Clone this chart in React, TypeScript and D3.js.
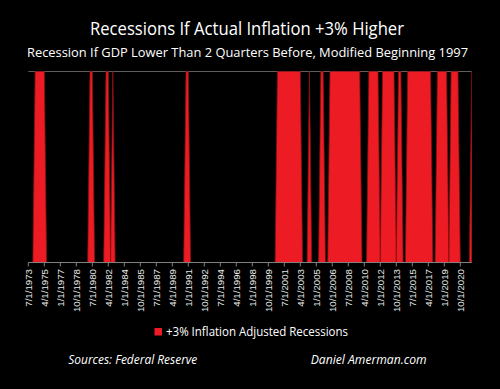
import React from "react";
import * as d3 from "d3";

// Quarterly recession flags (1 = recession), first quarter = 7/1/1973
const startYear = 1973;
const startQuarter = 3;
const flags1973 = [0, 0];
const flags1974to1979 = [
  0, 1, 1, 1, // 1974
  1, 1, 0, 0, // 1975
  0, 0, 0, 0, // 1976
  0, 0, 0, 0, // 1977
  0, 0, 0, 0, // 1978
  0, 0, 0, 0, // 1979
];
const flags1980to1989 = [
  0, 1, 1, 0, // 1980
  0, 0, 0, 0, // 1981
  1, 1, 0, 1, // 1982
  0, 0, 0, 0, // 1983
  0, 0, 0, 0, // 1984
  0, 0, 0, 0, // 1985
  0, 0, 0, 0, // 1986
  0, 0, 0, 0, // 1987
  0, 0, 0, 0, // 1988
  0, 0, 0, 0, // 1989
];
const flags1990to1999 = [
  0, 0, 0, 1, // 1990
  1, 0, 0, 0, // 1991
  0, 0, 0, 0, // 1992
  0, 0, 0, 0, // 1993
  0, 0, 0, 0, // 1994
  0, 0, 0, 0, // 1995
  0, 0, 0, 0, // 1996
  0, 0, 0, 0, // 1997
  0, 0, 0, 0, // 1998
  0, 0, 0, 0, // 1999
];
const flags2000to2009 = [
  0, 0, 0, 1, // 2000
  1, 1, 1, 1, // 2001
  1, 1, 1, 1, // 2002
  1, 1, 0, 0, // 2003
  0, 1, 0, 0, // 2004
  0, 0, 1, 1, // 2005
  0, 0, 1, 1, // 2006
  1, 1, 1, 1, // 2007
  1, 1, 1, 1, // 2008
  1, 1, 1, 1, // 2009
];
const flags2010to2022 = [
  0, 0, 0, 1, // 2010
  1, 1, 1, 1, // 2011
  0, 1, 1, 1, // 2012
  1, 1, 1, 0, // 2013
  1, 1, 0, 0, // 2014
  1, 1, 1, 1, // 2015
  1, 1, 1, 1, // 2016
  1, 1, 1, 0, // 2017
  0, 1, 1, 1, // 2018
  1, 1, 0, 1, // 2019
  1, 1, 1, 0, // 2020
  0, 0, 0, 0, // 2021
  1,          // 2022
];

const tickLabels = [
  "7/1/1973", "4/1/1975", "1/1/1977", "10/1/1978", "7/1/1980", "4/1/1982",
  "1/1/1984", "10/1/1985", "7/1/1987", "4/1/1989", "1/1/1991", "10/1/1992",
  "7/1/1994", "4/1/1996", "1/1/1998", "10/1/1999", "7/1/2001", "4/1/2003",
  "1/1/2005", "10/1/2006", "7/1/2008", "4/1/2010", "1/1/2012", "10/1/2013",
  "7/1/2015", "4/1/2017", "1/1/2019", "10/1/2020",
];
const tickEvery = 7;

const title = "Recessions If Actual Inflation +3% Higher";
const subtitle = "Recession If GDP Lower Than 2 Quarters Before, Modified Beginning 1997";
const legendLabel = "+3% Inflation Adjusted Recessions";
const sourceText = "Sources:  Federal Reserve";
const creditText = "Daniel Amerman.com";

const values = [
  ...flags1973,
  ...flags1974to1979,
  ...flags1980to1989,
  ...flags1990to1999,
  ...flags2000to2009,
  ...flags2010to2022,
];

const W = 500;
const H = 389;
const plotLeft = 28.3;
const plotRight = 471.7;
const plotTop = 71.5;
const plotBottom = 262.5;

const RED = "#ed1c24";
const FONT = "'Open Sans', 'Lato', sans-serif";

export default function App() {
  const x = d3.scaleLinear().domain([0, values.length - 1]).range([plotLeft, plotRight]);
  const y = d3.scaleLinear().domain([0, 1]).range([plotBottom, plotTop]);

  const area = d3
    .area<number>()
    .x((_, i) => x(i))
    .y0(y(0))
    .y1((d) => y(d))
    .curve(d3.curveLinear);
  const line = d3
    .line<number>()
    .x((_, i) => x(i))
    .y((d) => y(d));

  return (
    <svg
      width={W}
      height={H}
      style={{ position: "absolute", left: 0, top: 0, background: "#000", display: "block" }}
    >
      <rect x={0} y={0} width={W} height={H} fill="#000" />
      <text
        x={247}
        y={35}
        textAnchor="middle"
        fill="#fff"
        fontFamily={FONT}
        fontSize={18}
        textLength={314}
        lengthAdjust="spacingAndGlyphs"
      >
        {title}
      </text>
      <text
        x={247.5}
        y={57}
        textAnchor="middle"
        fill="#fff"
        fontFamily={FONT}
        fontSize={13}
        textLength={441}
        lengthAdjust="spacingAndGlyphs"
      >
        {subtitle}
      </text>

      {/* top gridline */}
      <line x1={plotLeft} x2={plotRight} y1={plotTop} y2={plotTop} stroke="#5e5e5e" strokeWidth={1} />

      <path d={area(values) || ""} fill={RED} />
      <path d={line(values) || ""} fill="none" stroke="#8a1212" strokeWidth={0.8} />

      {/* x axis */}
      <line x1={plotLeft} x2={plotRight} y1={plotBottom} y2={plotBottom} stroke="#808080" strokeWidth={1} />
      {tickLabels.map((lab, k) => {
        const xi = x(k * tickEvery);
        return (
          <g key={lab}>
            <line x1={xi} x2={xi} y1={plotBottom} y2={plotBottom + 4} stroke="#808080" strokeWidth={1} />
            <text
              transform={`translate(${xi},${plotBottom + 6.5}) rotate(-90)`}
              textAnchor="end"
              dy="0.35em"
              fill="#e6e6e6"
              fontFamily="'Liberation Sans', Arial, sans-serif"
              fontSize={9.7}
            >
              {lab}
            </text>
          </g>
        );
      })}

      {/* legend */}
      <rect x={154.5} y={328} width={7.5} height={7.5} fill={RED} />
      <text
        x={166}
        y={335.7}
        fill="#fff"
        fontFamily={FONT}
        fontSize={12.5}
        textLength={182}
        lengthAdjust="spacingAndGlyphs"
      >
        {legendLabel}
      </text>

      {/* footer */}
      <text
        x={68.3}
        y={364.3}
        fill="#fff"
        fontFamily={FONT}
        fontStyle="italic"
        fontSize={12.5}
        textLength={129}
        lengthAdjust="spacingAndGlyphs"
      >
        {sourceText}
      </text>
      <text
        x={310.7}
        y={364.3}
        fill="#fff"
        fontFamily={FONT}
        fontStyle="italic"
        fontSize={12.5}
        textLength={116}
        lengthAdjust="spacingAndGlyphs"
      >
        {creditText}
      </text>
    </svg>
  );
}
